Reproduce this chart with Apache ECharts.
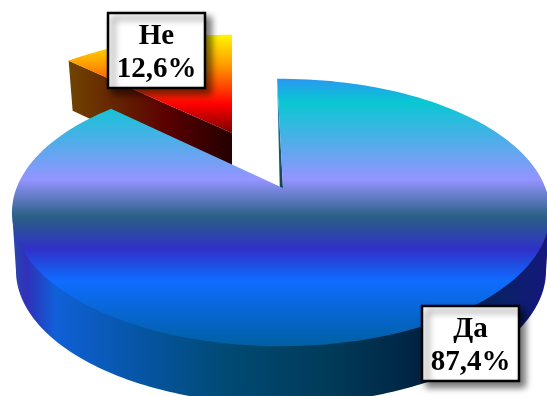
<!DOCTYPE html>
<html>
<head>
<meta charset="utf-8">
<style>html,body{margin:0;padding:0;background:#fff}#c{width:547px;height:396px}</style>
<script src="https://cdn.jsdelivr.net/npm/echarts@6/dist/echarts.min.js"></script>
</head>
<body>
<div id="c"></div>
<script>
// Survey answers, in percent
const categories = ['Да', 'Не'];
const percentValues = [87.4, 12.6];
const valueLabels = ['87,4%', '12,6%'];
// The pulled-out slice goes behind the main one
const paintOrder = [1, 0];

// Perspective projection of the disc onto the page
const APEX = [283, 188], RIM_X = 281, PERSP = -0.1835, NUM = 94.7, RADIUS = 264.5, DEPTH = 58;
// Bearings where the rim reaches its left and right extremes on the page
const SIDE_RIGHT = 100.6, SIDE_LEFT = 259.4;
function project(theta, r, sx, sy, ox, oy) {
  const u = Math.sin(theta) * r, v = -Math.cos(theta) * r;
  const w = 1 + PERSP * v;
  return [
    ox + RADIUS * u / w * sx,
    oy + ((NUM - PERSP * APEX[1]) * v) / w * sy
  ];
}
const rad = d => d * Math.PI / 180;
function arc(a0, a1, sx, sy, ox, oy) {
  const pts = [], n = 160;
  for (let i = 0; i <= n; i++) {
    pts.push(project(rad(a0 + (a1 - a0) * i / n), 1, sx, sy, ox, oy));
  }
  return pts;
}
const grad = (x, y, x2, y2, stops) => ({
  type: 'linear', x, y, x2, y2, global: true,
  colorStops: stops.map(s => ({ offset: s[0], color: s[1] }))
});
const poly = (points, fill) => ({
  type: 'polygon', shape: { points }, style: { fill }
});

const topFill = grad(0, 78, 0, 345, [
  [0, '#2a96f2'], [0.09, '#08c8d2'], [0.38, '#9494ff'], [0.52, '#2a6084'],
  [0.64, '#3030c8'], [0.76, '#0f6cff'], [1, '#0060a4']
]);
const wallFill = grad(13, 0, 547, 0, [
  [0, '#2a48b0'], [0.025, '#3030b8'], [0.08, '#1060d8'], [0.2, '#0858b0'],
  [0.4, '#004a74'], [0.6, '#003a58'], [0.78, '#002040'], [0.92, '#0a2068'], [1, '#14187c']
]);
const cutFill = grad(0, 90, 0, 188, [[0, '#2a96f2'], [0.4, '#1a6a90'], [1, '#0f4058']]);
const smallTopFill = grad(0, 37, 0, 133, [
  [0, '#fff000'], [0.3, '#ff9800'], [0.7, '#ff0000'], [1, '#7a0000']
]);
const smallWallFill = grad(69, 0, 232, 0, [[0, '#704400'], [0.6, '#5a0000'], [1, '#240000']]);

function drawLabel(cx, top, title, value) {
  const w = 97, h = 75;
  return [
    { type: 'rect', shape: { x: cx - w / 2, y: top, width: w, height: h },
      style: { fill: '#fff', stroke: '#000', lineWidth: 2.5,
        shadowBlur: 7, shadowOffsetX: 5, shadowOffsetY: 5, shadowColor: 'rgba(0,0,0,0.55)' } },
    { type: 'text', style: { x: cx, y: top + 24, text: title, fill: '#000', align: 'center',
        verticalAlign: 'middle', font: 'bold 29px "Liberation Serif"' } },
    { type: 'text', style: { x: cx, y: top + 57, text: value, fill: '#000', align: 'center',
        verticalAlign: 'middle', font: 'bold 29px "Liberation Serif"' } }
  ];
}

function renderItem(params, api) {
  const total = percentValues.reduce((a, b) => a + b, 0);
  const share = api.value(1) / total * 360;
  const idx = paintOrder[params.dataIndex];
  if (idx === 0) {
    // Main slice, running clockwise from just left of north
    const a0 = -1, a1 = a0 + share;
    const edge = arc(a0, a1, 1, 1, RIM_X, APEX[1]);
    // The wall's upper edge sits under the top face so no seam shows
    const front = arc(SIDE_RIGHT, SIDE_LEFT, 1, 1, RIM_X, APEX[1] - 3);
    const back = arc(SIDE_RIGHT, SIDE_LEFT, 0.985, 1, RIM_X, APEX[1] + DEPTH).reverse();
    const outer = edge[0];
    return { type: 'group', children: [
      poly(front.concat(back), wallFill),
      poly([outer, APEX, [APEX[0] - 3.2, APEX[1]]], cutFill),
      poly([APEX].concat(edge), topFill)
    ].concat(drawLabel(470.5, 306, categories[0], valueLabels[0])) };
  }
  // Pulled-out slice, ending due north of its own apex
  const sx = 0.98, sy = 0.9, ox = 232, oy = 133;
  const edge = arc(-share, 0, sx, sy, ox, oy);
  const corner = edge[0];
  return { type: 'group', children: [
    poly([corner, [ox, oy], [ox, oy + 52], [corner[0] + 4, corner[1] + 50]], smallWallFill),
    poly([[ox, oy]].concat(edge), smallTopFill)
  ].concat(drawLabel(156.5, 13, categories[1], valueLabels[1])) };
}

const chart = echarts.init(document.getElementById('c'), null, { renderer: 'canvas' });
chart.setOption({
  animation: false,
  series: [{
    type: 'custom',
    coordinateSystem: 'none',
    renderItem,
    data: paintOrder.map(i => ({ value: [i, percentValues[i]], name: categories[i] })),
    silent: true
  }]
});
</script>
</body>
</html>
